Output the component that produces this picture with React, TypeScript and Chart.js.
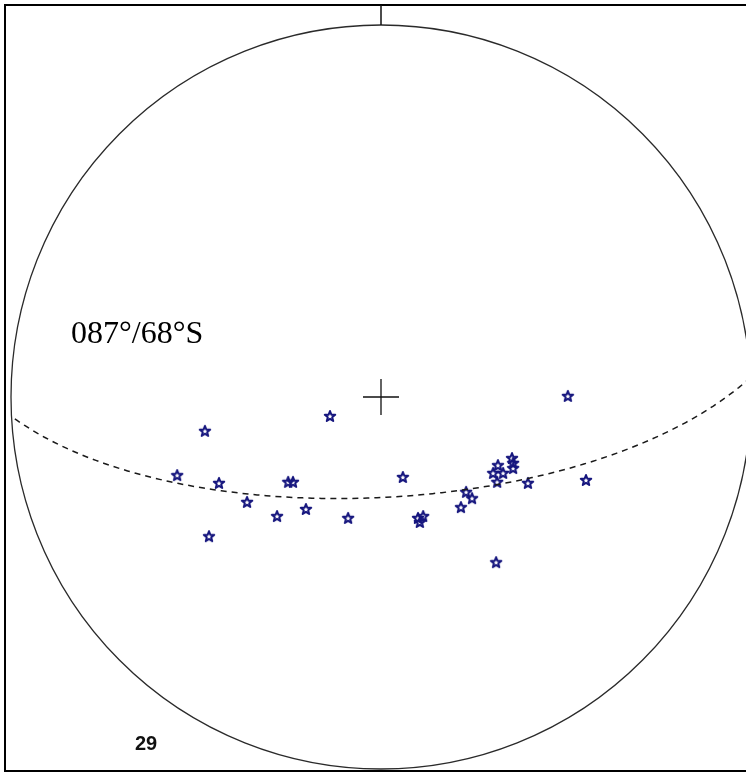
import React, { useEffect, useRef } from "react";
import { Chart, registerables } from "chart.js";

Chart.register(...registerables);

// Plane (great circle) orientation
const PLANE_STRIKE = 87;
const PLANE_DIP = 68;
const PLANE_LABEL = "087°/68°S";
const COUNT_LABEL = "29";

// Data points in net coordinates (unit radius, x = East, y = North)
const POINTS_X = [
  0.505, -0.138, -0.476, -0.551, -0.438, -0.362, -0.251, -0.238, -0.281, -0.203,
  -0.089, -0.465, 0.059, 0.1, 0.114, 0.105, 0.216, 0.23, 0.246, 0.303,
  0.316, 0.314, 0.33, 0.354, 0.357, 0.357, 0.397, 0.554, 0.311,
];
const POINTS_Y = [
  0.003, -0.051, -0.091, -0.21, -0.231, -0.282, -0.228, -0.228, -0.32, -0.301,
  -0.325, -0.374, -0.215, -0.325, -0.32, -0.336, -0.296, -0.255, -0.272, -0.204,
  -0.183, -0.228, -0.204, -0.164, -0.177, -0.191, -0.231, -0.223, -0.444,
];

function greatCircle(strike: number, dip: number) {
  const rad = Math.PI / 180;
  const dd = strike + 90;
  const s = [Math.cos(strike * rad), Math.sin(strike * rad), 0];
  const d = [
    Math.cos(dd * rad) * Math.cos(dip * rad),
    Math.sin(dd * rad) * Math.cos(dip * rad),
    Math.sin(dip * rad),
  ];
  const pts: { x: number; y: number }[] = [];
  for (let r = 0; r <= 180; r += 2) {
    const c = Math.cos(r * rad), sn = Math.sin(r * rad);
    const n = c * s[0] + sn * d[0];
    const e = c * s[1] + sn * d[1];
    const dn = Math.max(-1, Math.min(1, c * s[2] + sn * d[2]));
    const plunge = Math.asin(dn);
    const trend = Math.atan2(e, n);
    const rho = Math.SQRT2 * Math.sin((Math.PI / 2 - plunge) / 2);
    pts.push({ x: rho * Math.sin(trend), y: rho * Math.cos(trend) });
  }
  return pts;
}

function makeStar(): HTMLCanvasElement {
  const c = document.createElement("canvas");
  c.width = 14;
  c.height = 14;
  const ctx = c.getContext("2d")!;
  ctx.strokeStyle = "#16167e";
  ctx.lineWidth = 2;
  ctx.lineJoin = "round";
  ctx.beginPath();
  const R = 5.5, r = 2.3;
  for (let i = 0; i < 10; i++) {
    const a = -Math.PI / 2 + (i * Math.PI) / 5;
    const rr = i % 2 === 0 ? R : r;
    const x = 7 + rr * Math.cos(a);
    const y = 7.5 + rr * Math.sin(a);
    if (i === 0) ctx.moveTo(x, y);
    else ctx.lineTo(x, y);
  }
  ctx.closePath();
  ctx.stroke();
  return c;
}

const netPlugin = {
  id: "net",
  beforeDatasetsDraw(chart: any) {
    const ctx = chart.ctx;
    const xs = chart.scales.x;
    const ys = chart.scales.y;
    const cx = xs.getPixelForValue(0);
    const cy = ys.getPixelForValue(0);
    const rx = xs.getPixelForValue(1) - cx;
    const ry = cy - ys.getPixelForValue(1);
    ctx.save();
    ctx.fillStyle = "#ffffff";
    ctx.fillRect(0, 0, chart.width, chart.height);
    // border
    ctx.strokeStyle = "#000";
    ctx.lineWidth = 2;
    ctx.strokeRect(5, 5, 770, 766);
    // primitive circle
    ctx.strokeStyle = "#2a2a2a";
    ctx.lineWidth = 1.3;
    ctx.beginPath();
    ctx.ellipse(cx, cy, rx, ry, 0, 0, Math.PI * 2);
    ctx.stroke();
    // north tick
    ctx.strokeStyle = "#111";
    ctx.lineWidth = 1.5;
    ctx.beginPath();
    ctx.moveTo(cx, 5);
    ctx.lineTo(cx, cy - ry);
    ctx.stroke();
    // center cross
    ctx.lineWidth = 1.3;
    ctx.beginPath();
    ctx.moveTo(cx - 18, cy);
    ctx.lineTo(cx + 18, cy);
    ctx.moveTo(cx, cy - 18);
    ctx.lineTo(cx, cy + 18);
    ctx.stroke();
    // labels
    ctx.fillStyle = "#000";
    ctx.font = "32px 'Liberation Serif', 'Times New Roman', serif";
    ctx.textBaseline = "alphabetic";
    ctx.fillText(PLANE_LABEL, 71, 343);
    ctx.font = "bold 20px 'Liberation Sans', Arial, sans-serif";
    ctx.fillStyle = "#111";
    ctx.fillText(COUNT_LABEL, 135, 750);
    ctx.restore();
  },
};

export default function App() {
  const ref = useRef<HTMLCanvasElement | null>(null);
  useEffect(() => {
    document.body.style.margin = "0";
    const canvas = ref.current!;
    const R_X = 370, R_Y = 372, CX = 381, CY = 397, W = 746, H = 774;
    const chart = new Chart(canvas, {
      type: "scatter",
      data: {
        datasets: [
          {
            type: "line",
            data: greatCircle(PLANE_STRIKE, PLANE_DIP),
            borderColor: "#1a1a1a",
            borderWidth: 1.5,
            borderDash: [6, 5],
            pointRadius: 0,
            fill: false,
            tension: 0,
          } as any,
          {
            data: POINTS_X.map((x, i) => ({ x, y: POINTS_Y[i] })),
            pointStyle: makeStar(),
            pointRadius: 6,
            showLine: false,
          } as any,
        ],
      },
      options: {
        animation: false,
        responsive: false,
        devicePixelRatio: 1,
        layout: { padding: 0, autoPadding: false },
        plugins: { legend: { display: false }, tooltip: { enabled: false } },
        scales: {
          x: { type: "linear", display: false, min: (0 - CX) / R_X, max: (W - CX) / R_X },
          y: { type: "linear", display: false, min: -(H - CY) / R_Y, max: CY / R_Y },
        },
      },
      plugins: [netPlugin],
    });
    return () => chart.destroy();
  }, []);
  return (
    <div style={{ position: "fixed", left: 0, top: 0, width: 746, height: 774, background: "#fff" }}>
      <canvas ref={ref} width={746} height={774} style={{ display: "block" }} />
    </div>
  );
}
